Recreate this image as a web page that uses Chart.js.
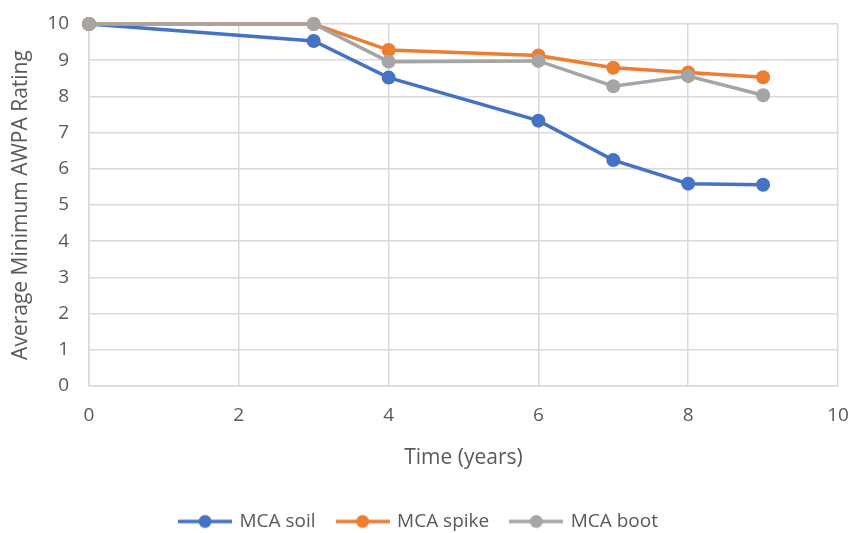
<!DOCTYPE html>
<html>
<head>
<meta charset="utf-8">
<script src="https://cdn.jsdelivr.net/npm/chart.js@4"></script>
<style>
  html, body { margin: 0; padding: 0; background: #fff; overflow: hidden; }
  #wrap { position: relative; width: 855px; height: 541px; }
</style>
</head>
<body>
<div id="wrap"><canvas id="chart"></canvas></div>
<script>
const years = [0, 3, 4, 6, 7, 8, 9];
const soil = [10, 9.53, 8.52, 7.33, 6.24, 5.59, 5.56];
const spike = [10, 10, 9.28, 9.13, 8.79, 8.66, 8.53];
const boot = [10, 10, 8.96, 8.98, 8.28, 8.56, 8.03];
const xTicks = [0, 2, 4, 6, 8, 10];
const yTicks = [0, 1, 2, 3, 4, 5, 6, 7, 8, 9, 10];

const textColor = '#595959';
const gridColor = '#d9d9d9';
const fontFamily = '"Open Sans", "Liberation Sans", sans-serif';

// little line+dot swatch for the legend
function swatch(color) {
    const c = document.createElement('canvas');
    c.width = 54;
    c.height = 16;
    const ctx = c.getContext('2d');
    ctx.strokeStyle = color;
    ctx.lineWidth = 3.5;
    ctx.beginPath();
    ctx.moveTo(0, 8);
    ctx.lineTo(54, 8);
    ctx.stroke();
    ctx.fillStyle = color;
    ctx.beginPath();
    ctx.arc(27, 8, 6.5, 0, Math.PI * 2);
    ctx.fill();
    return c;
}

// later series are painted over earlier ones, like the original
function series(label, values, color, order) {
    return {
        label: label,
        data: years.map((x, i) => ({ x: x, y: values[i] })),
        borderColor: color,
        backgroundColor: color,
        borderWidth: 3.5,
        pointRadius: 7,
        pointHoverRadius: 7,
        pointBorderWidth: 0,
        pointStyle: 'circle',
        legendStyle: swatch(color),
        order: order,
        clip: false,
        tension: 0
    };
}

const datasets = [
    series('MCA soil', soil, '#4472c4', 3),
    series('MCA spike', spike, '#ed7d31', 2),
    series('MCA boot', boot, '#a5a5a5', 1)
];

new Chart(document.getElementById('chart'), {
    type: 'line',
    data: { datasets: datasets },
    options: {
        responsive: true,
        maintainAspectRatio: false,
        animation: false,
        layout: { autoPadding: false, padding: { top: 24, right: 17, left: 0, bottom: 0 } },
        plugins: {
            tooltip: { enabled: false },
            legend: {
                position: 'bottom',
                labels: {
                    color: textColor,
                    font: { family: fontFamily, size: 19 },
                    usePointStyle: true,
                    pointStyleWidth: 50,
                    boxHeight: 16,
                    padding: 22,
                    generateLabels(chart) {
                        return chart.data.datasets.map((d, i) => ({
                            text: d.label,
                            fontColor: textColor,
                            pointStyle: d.legendStyle,
                            datasetIndex: i,
                            lineWidth: 0,
                            hidden: false
                        }));
                    }
                }
            }
        },
        scales: {
            x: {
                type: 'linear',
                min: 0,
                max: 10,
                afterBuildTicks(scale) { scale.ticks = xTicks.map(v => ({ value: v })); },
                afterFit(scale) { scale.paddingLeft = 0; scale.paddingRight = 0; },
                grid: { color: gridColor, lineWidth: 1.5, drawTicks: false },
                border: { color: gridColor, width: 1.5 },
                ticks: { color: textColor, font: { family: fontFamily, size: 19 }, padding: 18, maxRotation: 0 },
                title: {
                    display: true,
                    text: 'Time (years)',
                    color: textColor,
                    font: { family: fontFamily, size: 21 },
                    padding: { top: 1, bottom: 19 }
                }
            },
            y: {
                min: 0,
                max: 10,
                afterBuildTicks(scale) { scale.ticks = yTicks.map(v => ({ value: v })); },
                afterFit(scale) {
                    scale.width = 89;
                    scale.paddingTop = 0;
                    scale.paddingBottom = 0;
                },
                grid: { color: gridColor, lineWidth: 1.5, drawTicks: false },
                border: { color: gridColor, width: 1.5 },
                ticks: { color: textColor, font: { family: fontFamily, size: 19 }, padding: 20 },
                title: {
                    display: true,
                    text: 'Average Minimum AWPA Rating',
                    color: textColor,
                    font: { family: fontFamily, size: 21 },
                    padding: { top: 8, bottom: 0 }
                }
            }
        }
    }
});
</script>
</body>
</html>
